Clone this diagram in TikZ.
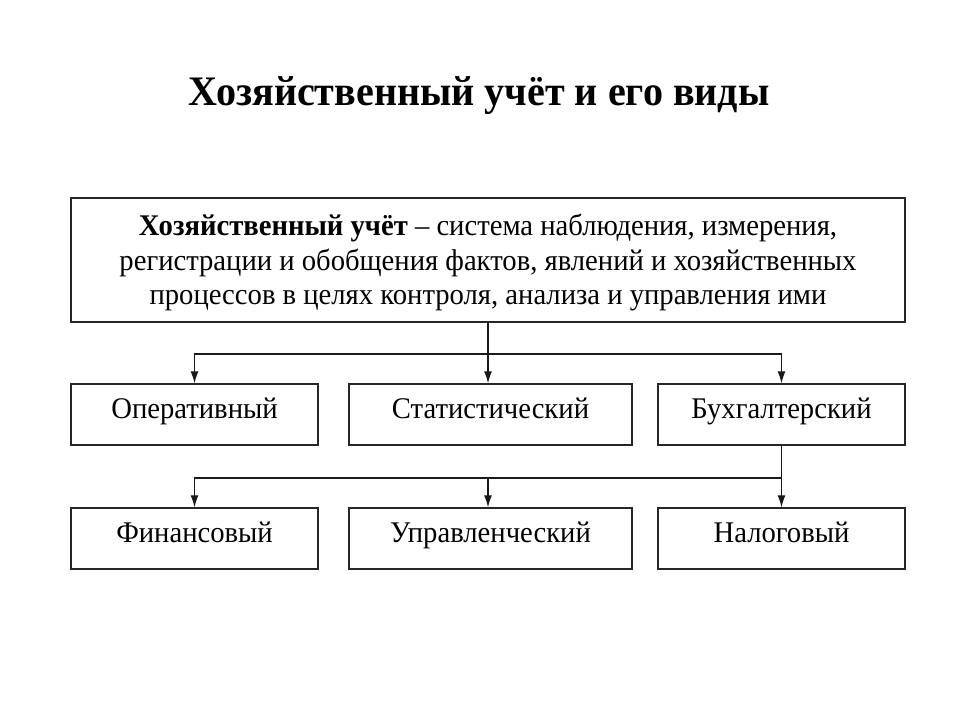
\documentclass[tikz,border=0pt]{standalone}
\usepackage{fontspec}
\setmainfont[FakeStretch=0.955]{Liberation Serif}
\usetikzlibrary{arrows.meta}
\begin{document}
\begin{tikzpicture}[x=1pt,y=-1pt,
  frame/.style={draw=black!85,line width=1.4pt,rectangle,inner sep=0pt},
  box/.style={frame,text height=22pt,text depth=15pt,font=\fontsize{30}{34.5}\selectfont},
  conn/.style={draw=black!90,line width=1.2pt},
  arr/.style={conn,-{Latex[length=12pt,width=8pt]}}]
\useasboundingbox (0,0) rectangle (960,720);
\node[anchor=base,inner sep=0pt,font=\fontsize{42}{46}\selectfont\bfseries] (title) at (479,105) {Хозяйственный учёт и его виды};
\node[frame,minimum width=834pt,minimum height=124pt] (main) at (488,260) {};
\node[inner sep=0pt,align=center,font=\fontsize{30}{34.5}\selectfont] (maintext) at (488,262.5)
 {\textbf{Хозяйственный учёт} – система наблюдения, измерения,\\ регистрации и обобщения фактов, явлений и хозяйственных\\ процессов в целях контроля, анализа и управления ими};
\node[box,minimum width=247pt,minimum height=61pt] (oper) at (194.5,414.5) {Оперативный};
\node[box,minimum width=283pt,minimum height=61pt] (stat) at (490.5,414.5) {Статистический};
\node[box,minimum width=247pt,minimum height=61pt] (buh) at (781.5,414.5) {Бухгалтерский};
\node[box,minimum width=247pt,minimum height=61pt] (fin) at (194.5,538.5) {Финансовый};
\node[box,minimum width=283pt,minimum height=61pt] (upr) at (490.5,538.5) {Управленческий};
\node[box,minimum width=247pt,minimum height=61pt] (nal) at (781.5,538.5) {Налоговый};
\coordinate (m1) at (488,354);
\coordinate (b1) at (781.5,478);
\draw[arr] (main.south -| m1) -- (m1) -- (stat.north -| m1);
\draw[arr] (m1) -| (oper.north);
\draw[arr] (m1) -| (buh.north);
\draw[arr] (buh.south) -- (b1) -- (nal.north);
\draw[arr] (b1) -| (fin.north);
\draw[arr] (b1 -| m1) -- (upr.north -| m1);
\end{tikzpicture}
\end{document}
